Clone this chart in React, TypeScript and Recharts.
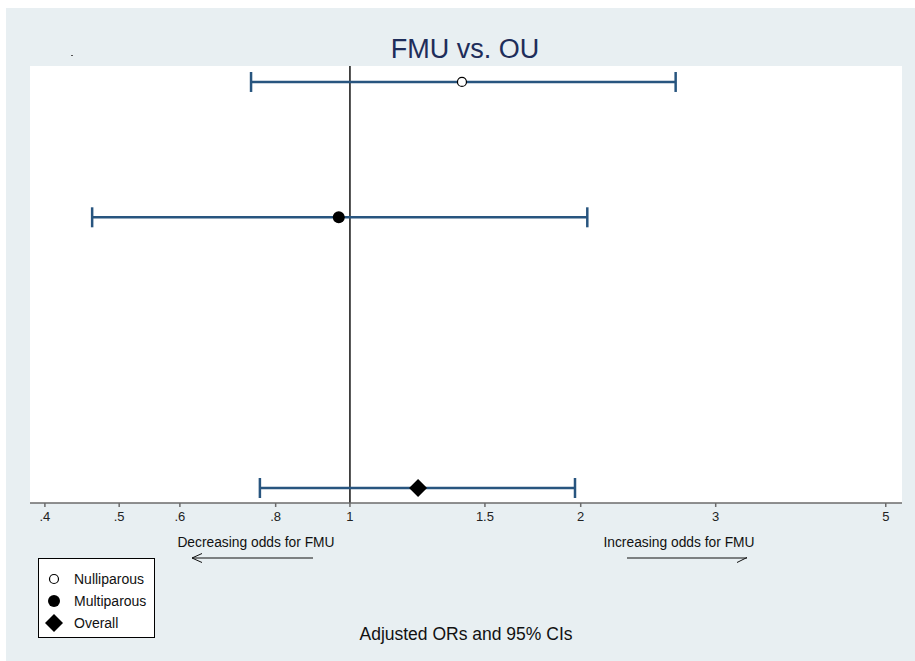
import {
  ScatterChart, Scatter, XAxis, YAxis, CartesianGrid, ReferenceLine, ErrorBar, Legend,
} from 'recharts';

const categories = ['Nulliparous', 'Multiparous', 'Overall'];
const rowPos = [4, 3, 1];
const oddsRatios = [1.4, 0.967, 1.227];
const ciLow = [0.743, 0.461, 0.763];
const ciHigh = [2.66, 2.04, 1.966];
const xTicks = [0.4, 0.5, 0.6, 0.8, 1, 1.5, 2, 3, 5];

const BAR_COLOR = '#28557f';
const FONT = '"Liberation Sans", Arial, sans-serif';

const rows = categories.map((name, i) => ({
  name,
  x: oddsRatios[i],
  y: rowPos[i],
  err: [oddsRatios[i] - ciLow[i], ciHigh[i] - oddsRatios[i]],
}));

const marker = (i: number, cx: number, cy: number) => {
  if (i === 0) return <circle cx={cx} cy={cy} r={4.5} fill="#fff" stroke="#000" strokeWidth={1.2} />;
  if (i === 1) return <circle cx={cx} cy={cy} r={6} fill="#000" />;
  const s = 9;
  return <path d={`M${cx},${cy - s}L${cx + s},${cy}L${cx},${cy + s}L${cx - s},${cy}Z`} fill="#000" />;
};

const fmtTick = (v: number) => (v < 1 ? String(v).replace(/^0/, '') : String(v));

function LegendBox({ payload }: any) {
  // keep the legend in the order of the categories, whatever order recharts hands over
  const names = (payload || []).map((p: any) => p.value);
  const items = categories.filter(c => names.length === 0 || names.includes(c));
  return (
    <div style={{ width: 115, height: 78, border: '1px solid #000', background: '#fff' }}>
      <svg width={115} height={78}>
        {items.map((name: string) => {
          const i = categories.indexOf(name);
          return (
            <g key={name}>
              {marker(i, 15, 20 + i * 22)}
              <text x={35} y={25 + i * 22} fontSize={14} fontFamily={FONT} fill="#111">{name}</text>
            </g>
          );
        })}
      </svg>
    </div>
  );
}

export default function App() {
  return (
    <div style={{ position: 'absolute', left: 6, top: 8, width: 909, height: 653, background: '#e8eff2', fontFamily: FONT }}>
      <ScatterChart width={909} height={653} margin={{ top: 58, right: 13, left: 24, bottom: 128 }}>
        <CartesianGrid horizontal={false} vertical={false} fill="#fff" />
        <XAxis
          type="number"
          dataKey="x"
          scale="log"
          domain={[0.3825, 5.25]}
          allowDataOverflow
          ticks={xTicks}
          tickFormatter={fmtTick}
          height={30}
          tickSize={4}
          tickMargin={5}
          stroke="#6b6b6b"
          strokeWidth={1.5}
          tick={{ fontSize: 13, fill: '#222', fontFamily: FONT }}
        />
        <YAxis type="number" dataKey="y" domain={[0.889, 4.118]} hide allowDataOverflow />
        <ReferenceLine x={1} stroke="#000" strokeWidth={1.4} />
        {rows.map((r, i) => (
          <Scatter
            key={r.name}
            name={r.name}
            data={[r]}
            isAnimationActive={false}
            shape={(p: any) => marker(i, p.cx, p.cy)}
          >
            <ErrorBar dataKey="err" direction="x" width={10} stroke={BAR_COLOR} strokeWidth={2.5} isAnimationActive={false} />
          </Scatter>
        ))}
        <Legend
          layout="vertical"
          align="center"
          verticalAlign="middle"
          content={<LegendBox />}
          wrapperStyle={{ left: 32, top: 550, width: 117, height: 80 }}
        />
      </ScatterChart>
      <svg width={909} height={653} style={{ position: 'absolute', left: 0, top: 0, pointerEvents: 'none' }}>
        <g transform="translate(-6,-8)" fontFamily={FONT}>
          <rect x={71} y={55} width={2} height={1} fill="#555" />
          <text x={465} y={58} textAnchor="middle" fontSize={27} fill="#1e2d5a">FMU vs. OU</text>
          <text x={256} y={547} textAnchor="middle" fontSize={13.8} fill="#111">Decreasing odds for FMU</text>
          <line x1={313} y1={558} x2={192} y2={558} stroke="#111" strokeWidth={1} />
          <polyline points="202,553.5 192,558 202,562.5" fill="none" stroke="#111" strokeWidth={1} />
          <text x={679} y={547} textAnchor="middle" fontSize={13.8} fill="#111">Increasing odds for FMU</text>
          <line x1={627} y1={558} x2={747} y2={558} stroke="#111" strokeWidth={1} />
          <line x1={747} y1={557.5} x2={737} y2={562.5} stroke="#111" strokeWidth={1} />
          <text x={466} y={640} textAnchor="middle" fontSize={17.5} fill="#111">Adjusted ORs and 95% CIs</text>
        </g>
      </svg>
    </div>
  );
}
